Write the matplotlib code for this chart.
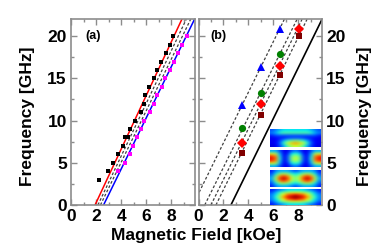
import numpy as np
import matplotlib
matplotlib.use("Agg")
import matplotlib.pyplot as plt
from matplotlib.ticker import MultipleLocator

plt.rcParams['font.family'] = ['Liberation Sans', 'DejaVu Sans']
plt.rcParams['font.weight'] = 'bold'

# ---- panel (a) data ----
upper_H = [2.26, 2.93, 3.39, 3.79, 4.16, 4.29, 4.59, 4.69, 5.07, 5.57, 5.84, 5.87,
           6.24, 6.64, 6.9, 7.22, 7.57, 7.87, 8.16]
upper_f = [3, 4, 5, 6, 7, 8, 8, 9, 10, 11, 12, 13, 14, 15, 16, 17, 18, 19, 20]
lower_H = [3.79, 4.29, 4.7, 4.93, 5.23, 5.55, 5.84, 6.27, 6.61, 6.83, 7.23, 7.49,
           7.89, 8.2, 8.53, 8.85, 9.25]
lower_f = [4, 5, 6, 7, 8, 9, 10, 11, 12, 13, 14, 15, 16, 17, 18, 19, 20]
red_line_H = [1.92, 8.85]
blue_line_H = [2.6, 9.86]
dash_a_H = [[2.15, 9.2], [2.35, 9.55]]
line_f = [0, 22]

# ---- panel (b) data ----
tri_H = [3.5, 5.0, 6.5]
tri_f = [11.9, 16.3, 20.9]
circ_H = [3.5, 5.0, 6.5]
circ_f = [9.07, 13.3, 17.9]
diam_H = [3.5, 5.0, 6.5, 8.04]
diam_f = [7.34, 11.95, 16.45, 20.9]
sq_H = [3.5, 5.0, 6.5, 8.04]
sq_f = [6.2, 10.65, 15.35, 20.0]
dash_b_H = [[-0.45, 6.88], [0.5, 7.9], [1.0, 8.3], [1.4, 8.7]]
solid_b_H = [2.6, 9.9]

# ---- inset mode profiles (jet colour scale, 0..1) ----
mode1 = [[.2, .25, .3, .35, .35, .35, .35, .35, .35, .35, .3, .25, .2],
         [.25, .3, .4, .45, .45, .45, .45, .45, .45, .45, .4, .3, .25],
         [.15, .2, .2, .2, .2, .2, .2, .2, .2, .2, .2, .2, .15],
         [.1, .12, .15, .15, .18, .2, .2, .2, .18, .15, .15, .12, .1],
         [.1, .12, .18, .3, .4, .45, .5, .45, .4, .3, .18, .12, .1],
         [.1, .12, .22, .4, .6, .7, .75, .7, .6, .4, .22, .12, .1],
         [.08, .1, .18, .3, .45, .55, .6, .55, .45, .3, .18, .1, .08]]
mode2 = [[.3, .3, .2, .1, .1, .2, .25, .2, .1, .1, .2, .3, .3],
         [.6, .55, .3, .1, .15, .35, .4, .35, .15, .1, .3, .55, .6],
         [.85, .75, .35, .1, .2, .45, .55, .45, .2, .1, .35, .75, .85],
         [.9, .8, .4, .1, .2, .5, .6, .5, .2, .1, .4, .8, .9],
         [.85, .75, .35, .1, .2, .45, .55, .45, .2, .1, .35, .75, .85],
         [.6, .55, .3, .1, .15, .35, .4, .35, .15, .1, .3, .55, .6],
         [.3, .3, .2, .1, .1, .2, .25, .2, .1, .1, .2, .3, .3]]
mode3 = [[.15, .25, .3, .3, .3, .25, .2, .25, .3, .3, .3, .25, .15],
         [.2, .35, .5, .55, .5, .4, .35, .4, .5, .55, .5, .35, .2],
         [.25, .5, .75, .85, .75, .55, .45, .55, .75, .85, .75, .5, .25],
         [.3, .55, .85, .95, .85, .6, .5, .6, .85, .95, .85, .55, .3],
         [.25, .5, .75, .85, .75, .55, .45, .55, .75, .85, .75, .5, .25],
         [.2, .35, .5, .55, .5, .4, .35, .4, .5, .55, .5, .35, .2],
         [.15, .25, .3, .3, .3, .25, .2, .25, .3, .3, .3, .25, .15]]
mode4 = [[.15, .2, .25, .3, .35, .35, .35, .35, .35, .3, .25, .2, .15],
         [.2, .3, .4, .5, .55, .6, .6, .6, .55, .5, .4, .3, .2],
         [.25, .35, .5, .65, .8, .85, .9, .85, .8, .65, .5, .35, .25],
         [.25, .4, .55, .75, .9, .95, 1.0, .95, .9, .75, .55, .4, .25],
         [.25, .35, .5, .65, .8, .85, .9, .85, .8, .65, .5, .35, .25],
         [.2, .3, .4, .5, .55, .6, .6, .6, .55, .5, .4, .3, .2],
         [.15, .2, .25, .3, .35, .35, .35, .35, .35, .3, .25, .2, .15]]
modes = [mode1, mode2, mode3, mode4]

W, H = 391, 249
fig = plt.figure(figsize=(W / 100, H / 100), dpi=100)

ax_bot = 1 - 205 / H
ax_h = (205 - 19.3) / H
axa = fig.add_axes([71 / W, ax_bot, 124 / W, ax_h])
axb = fig.add_axes([198.5 / W, ax_bot, 123.5 / W, ax_h])

grey = '#8c8c8c'
for ax in (axa, axb):
    ax.set_xlim(0, 9.9)
    ax.set_ylim(0, 22)
    ax.xaxis.set_major_locator(MultipleLocator(2))
    ax.xaxis.set_minor_locator(MultipleLocator(1))
    ax.yaxis.set_major_locator(MultipleLocator(5))
    ax.yaxis.set_minor_locator(MultipleLocator(2.5))
    ax.tick_params(which='both', direction='in', top=True, right=True,
                   color=grey, width=1, labelsize=12.5, pad=3)
    ax.tick_params(which='major', length=4)
    ax.tick_params(which='minor', length=2)
    for s in ax.spines.values():
        s.set_color(grey)
        s.set_linewidth(1.2)
    for lab in ax.get_xticklabels() + ax.get_yticklabels():
        lab.set_fontweight('bold')

axb.tick_params(axis='y', labelleft=False, labelright=True)

dash = (0, (2.2, 1.6))

# panel (a)
axa.plot(red_line_H, line_f, color='#ff0000', lw=1.1)
axa.plot(blue_line_H, line_f, color='#0000ff', lw=1.1)
for hx in dash_a_H:
    axa.plot(hx, line_f, color='#404040', lw=0.9, linestyle=dash)
axa.plot(upper_H, upper_f, 's', color='black', ms=2.9, mew=0)
axa.plot(lower_H, lower_f, 's', color='#ff00ff', ms=2.9, mew=0)
axa.text(0.113, 0.91, '(a)', transform=axa.transAxes, fontsize=9,
         fontweight='bold', va='center', ha='left')

# panel (b)
for hx in dash_b_H:
    axb.plot(hx, line_f, color='#404040', lw=0.9, linestyle=dash)
axb.plot(solid_b_H, line_f, color='black', lw=1.2)
axb.plot(tri_H, tri_f, '^', color='#0000ff', ms=5.5, mew=0)
axb.plot(circ_H, circ_f, 'o', color='#008000', ms=5.2, mew=0)
axb.plot(diam_H, diam_f, 'D', color='#ff0000', ms=4.6, mew=0)
axb.plot(sq_H, sq_f, 's', color='#800000', ms=4.4, mew=0)
axb.text(0.099, 0.91, '(b)', transform=axb.transAxes, fontsize=9,
         fontweight='bold', va='center', ha='left')

# inset mode images
inset_rows = [(129, 147), (150, 167), (170, 187), (189, 205)]
for (y0, y1), m in zip(inset_rows, modes):
    iax = fig.add_axes([270 / W, 1 - y1 / H, 51 / W, (y1 - y0) / H])
    iax.imshow(np.array(m), cmap='jet', vmin=0, vmax=1, aspect='auto',
               interpolation='bicubic')
    iax.set_xticks([])
    iax.set_yticks([])
    for s in iax.spines.values():
        s.set_visible(False)

fig.text(28 / W, 1 - 116 / H, 'Frequency [GHz]', rotation=90, fontsize=12.5,
         fontweight='bold', ha='center', va='center')
fig.text(365 / W, 1 - 116 / H, 'Frequency [GHz]', rotation=90, fontsize=12.5,
         fontweight='bold', ha='center', va='center')
fig.text(196 / W, 1 - 235 / H, 'Magnetic Field [kOe]', fontsize=12.5,
         fontweight='bold', ha='center', va='center')

fig.savefig('out.png', dpi=100)
